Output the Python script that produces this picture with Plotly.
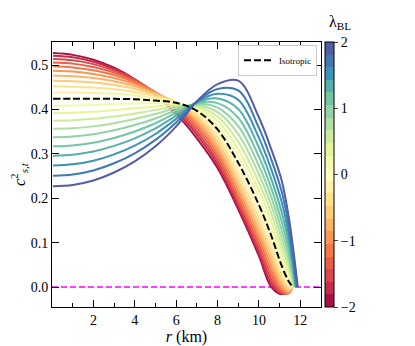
import plotly.graph_objects as go
import plotly.express as px
from plotly.colors import sample_colorscale

# radial grid (km) shared by every curve, each curve then closes at its own surface radius
r_km = [0.05, 1, 2, 3, 4, 5, 6, 7, 8, 9, 10, 10.6, 11.1, 11.45]

lambda_bl = [-2.0, -1.8, -1.6, -1.4, -1.2, -1.0, -0.8, -0.6, -0.4, -0.2, 0.0,
             0.2, 0.4, 0.6, 0.8, 1.0, 1.2, 1.4, 1.6, 1.8, 2.0]

surface_r = [11.63, 11.62, 11.61, 11.61, 11.61, 11.61, 11.62, 11.62, 11.63, 11.64, 11.65,
             11.66, 11.68, 11.70, 11.72, 11.74, 11.76, 11.79, 11.81, 11.84, 11.88]

c2_m20 = [0.527, 0.523, 0.512, 0.494, 0.468, 0.433, 0.390, 0.335, 0.268, 0.175, 0.070, 0.000, -0.016, -0.006]
c2_m18 = [0.5209, 0.5174, 0.5075, 0.4913, 0.4678, 0.4358, 0.3960, 0.3431, 0.2760, 0.1819, 0.0778, 0.0079, -0.0154, -0.0098]
c2_m16 = [0.5139, 0.5108, 0.5021, 0.4877, 0.4666, 0.4376, 0.4012, 0.3507, 0.2842, 0.1896, 0.0864, 0.0166, -0.0134, -0.0124]
c2_m14 = [0.5060, 0.5033, 0.4957, 0.4831, 0.4645, 0.4386, 0.4057, 0.3579, 0.2925, 0.1981, 0.0959, 0.0261, -0.0102, -0.0137]
c2_m12 = [0.4971, 0.4948, 0.4883, 0.4775, 0.4614, 0.4386, 0.4094, 0.3647, 0.3010, 0.2074, 0.1062, 0.0364, -0.0058, -0.0138]
c2_m10 = [0.4873, 0.4854, 0.4800, 0.4710, 0.4574, 0.4378, 0.4123, 0.3711, 0.3096, 0.2175, 0.1173, 0.0475, 0.0000, -0.0126]
c2_m08 = [0.4765, 0.4750, 0.4707, 0.4635, 0.4524, 0.4360, 0.4144, 0.3771, 0.3184, 0.2284, 0.1292, 0.0594, 0.0070, -0.0102]
c2_m06 = [0.4648, 0.4637, 0.4605, 0.4551, 0.4465, 0.4334, 0.4157, 0.3827, 0.3273, 0.2401, 0.1419, 0.0721, 0.0154, -0.0065]
c2_m04 = [0.4521, 0.4514, 0.4493, 0.4457, 0.4396, 0.4298, 0.4162, 0.3879, 0.3364, 0.2526, 0.1554, 0.0856, 0.0250, -0.0016]
c2_m02 = [0.4385, 0.4382, 0.4371, 0.4353, 0.4318, 0.4254, 0.4160, 0.3927, 0.3456, 0.2659, 0.1698, 0.0999, 0.0358, 0.0046]
c2_p00 = [0.424, 0.424, 0.424, 0.424, 0.423, 0.420, 0.415, 0.397, 0.355, 0.280, 0.185, 0.115, 0.048, 0.012]
c2_p02 = [0.4085, 0.4089, 0.4099, 0.4117, 0.4133, 0.4138, 0.4132, 0.4010, 0.3645, 0.2949, 0.2010, 0.1309, 0.0614, 0.0207]
c2_p04 = [0.3921, 0.3928, 0.3949, 0.3985, 0.4026, 0.4066, 0.4106, 0.4045, 0.3742, 0.3106, 0.2178, 0.1476, 0.0762, 0.0306]
c2_p06 = [0.3748, 0.3758, 0.3789, 0.3843, 0.3910, 0.3986, 0.4073, 0.4076, 0.3840, 0.3271, 0.2355, 0.1651, 0.0922, 0.0418]
c2_p08 = [0.3565, 0.3578, 0.3619, 0.3691, 0.3784, 0.3896, 0.4032, 0.4103, 0.3940, 0.3444, 0.2540, 0.1834, 0.1094, 0.0542]
c2_p10 = [0.3373, 0.3389, 0.3440, 0.3530, 0.3649, 0.3798, 0.3983, 0.4126, 0.4041, 0.3625, 0.2733, 0.2025, 0.1280, 0.0679]
c2_p12 = [0.3171, 0.3190, 0.3251, 0.3359, 0.3504, 0.3690, 0.3926, 0.4145, 0.4144, 0.3814, 0.2934, 0.2224, 0.1478, 0.0828]
c2_p14 = [0.2960, 0.2982, 0.3053, 0.3179, 0.3350, 0.3574, 0.3861, 0.4160, 0.4248, 0.4011, 0.3143, 0.2431, 0.1690, 0.0990]
c2_p16 = [0.2739, 0.2764, 0.2845, 0.2989, 0.3186, 0.3448, 0.3788, 0.4171, 0.4354, 0.4216, 0.3360, 0.2646, 0.1914, 0.1164]
c2_p18 = [0.2509, 0.2537, 0.2627, 0.2789, 0.3013, 0.3314, 0.3708, 0.4178, 0.4461, 0.4429, 0.3586, 0.2869, 0.2150, 0.1351]
c2_p20 = [0.227, 0.230, 0.240, 0.258, 0.283, 0.317, 0.362, 0.418, 0.457, 0.465, 0.382, 0.310, 0.240, 0.155]

iso_r = [0.05, 1, 2, 3, 4, 5, 6, 7, 8, 9, 10, 10.6, 11.1, 11.45, 11.65]
iso_c2 = [0.424, 0.424, 0.424, 0.424, 0.423, 0.420, 0.415, 0.397, 0.355, 0.280, 0.185, 0.115, 0.048, 0.012, 0.0]

cbar_ticks = [-2, -1, 0, 1, 2]
cbar_labels = ["\u22122", "\u22121", "0", "1", "2"]

curves = [c2_m20, c2_m18, c2_m16, c2_m14, c2_m12, c2_m10, c2_m08, c2_m06, c2_m04, c2_m02, c2_p00,
          c2_p02, c2_p04, c2_p06, c2_p08, c2_p10, c2_p12, c2_p14, c2_p16, c2_p18, c2_p20]

FONT = "Liberation Serif"
n = len(lambda_bl)
# one colour per band, taken at the band centre
cols = sample_colorscale(px.colors.diverging.Spectral, [(i + 0.5) / n for i in range(n)])

stepped = []
for i, c in enumerate(cols):
    stepped.append([i / n, c])
    stepped.append([(i + 1) / n, c])

fig = go.Figure()

# zero line
fig.add_trace(go.Scatter(x=[0, 13], y=[0, 0], mode="lines",
                         line={"color": "#ff00ff", "width": 1.6, "dash": "6px,3px"},
                         showlegend=False, hoverinfo="skip"))

for i, lam in enumerate(lambda_bl):
    fig.add_trace(go.Scatter(x=r_km + [surface_r[i]], y=curves[i] + [0.0], mode="lines",
                             line={"color": cols[i], "width": 2, "shape": "spline", "smoothing": 1.0},
                             name="λ=%.1f" % lam, showlegend=False))

fig.add_trace(go.Scatter(x=iso_r, y=iso_c2, mode="lines", name="Isotropic",
                         line={"color": "black", "width": 2, "dash": "7px,3px", "shape": "spline"}))

# colorbar holder
fig.add_trace(go.Scatter(x=[None], y=[None], mode="markers", showlegend=False,
                         marker={"color": [-2, 2], "cmin": -2, "cmax": 2, "colorscale": stepped,
                                 "showscale": True,
                                 "colorbar": {"x": 1.015, "xanchor": "left", "xpad": 0, "ypad": 0,
                                              "y": 0.5, "yanchor": "middle",
                                              "len": 1, "thickness": 9, "outlinewidth": 1,
                                              "outlinecolor": "black", "ticks": "outside", "ticklen": 4,
                                              "tickvals": cbar_ticks, "ticktext": cbar_labels,
                                              "tickfont": {"size": 14, "family": FONT, "color": "black"}}}))

fig.add_annotation(x=1.07, y=1.075, xref="paper", yref="paper", showarrow=False,
                   text="λ<sub>BL</sub>", font={"size": 16, "family": FONT, "color": "black"},
                   xanchor="center", yanchor="middle")

axis_common = {"showgrid": False, "zeroline": False, "showline": True, "linecolor": "black",
               "linewidth": 1, "mirror": "ticks", "ticks": "inside", "tickcolor": "black",
               "ticklen": 7, "tickwidth": 1,
               "tickfont": {"size": 14, "family": FONT, "color": "black"}}

# page body keeps its 8px default margin, so the figure is 8px smaller and shifted margins
fig.update_layout({
    "width": 407, "height": 338,
    "margin": {"l": 44, "r": 94, "t": 34, "b": 39, "autoexpand": False},
    "plot_bgcolor": "white", "paper_bgcolor": "white",
    "font": {"family": FONT, "color": "black"},
    "xaxis": {**axis_common, "range": [0, 13], "tickvals": [2, 4, 6, 8, 10, 12],
              "minor": {"dtick": 1, "tick0": 0, "ticks": "inside", "ticklen": 4, "tickcolor": "black"},
              "title": {"text": "<i>r</i> (km)", "font": {"size": 16, "family": FONT}, "standoff": 8}},
    "yaxis": {**axis_common, "range": [-0.045, 0.552], "tickvals": [0, 0.1, 0.2, 0.3, 0.4, 0.5],
              "tickformat": ".1f",
              "title": {"text": "<i>c</i><sup>2</sup><sub><i>s,t</i></sub>", "font": {"size": 16, "family": FONT},
                        "standoff": 6}},
    "legend": {"x": 0.985, "y": 0.99, "xanchor": "right", "yanchor": "top",
               "bgcolor": "white", "bordercolor": "#cccccc", "borderwidth": 1,
               "font": {"size": 9, "family": FONT, "color": "black"}, "itemwidth": 30, "tracegroupgap": 0},
    "showlegend": True,
})

fig.write_html("out.html")
